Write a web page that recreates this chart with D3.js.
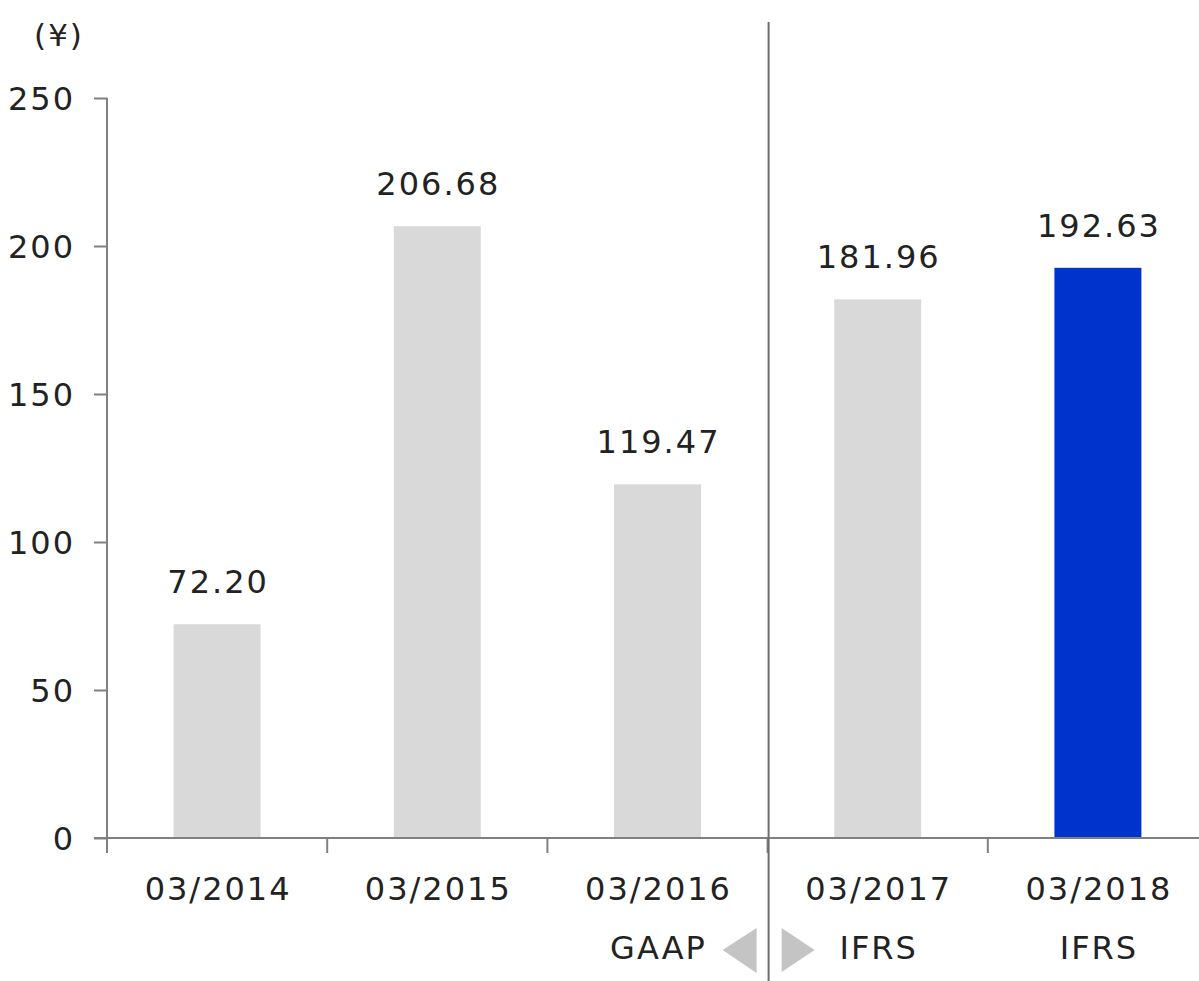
<!DOCTYPE html>
<html>
<head>
<meta charset="utf-8">
<script src="https://cdn.jsdelivr.net/npm/d3@7"></script>
<style>
  html, body { margin: 0; padding: 0; background: #ffffff; }
  svg { display: block; }
  text { font-family: "DejaVu Sans", Verdana, sans-serif; fill: #222; letter-spacing: 2px; }
</style>
</head>
<body>
<svg id="chart" width="1199" height="981"></svg>
<script>
const categories = ["03/2014", "03/2015", "03/2016", "03/2017", "03/2018"];
const values = [72.20, 206.68, 119.47, 181.96, 192.63];
const valueLabels = ["72.20", "206.68", "119.47", "181.96", "192.63"];
const standards = ["", "", "GAAP", "IFRS", "IFRS"];
const barColors = ["#d9d9d9", "#d9d9d9", "#d9d9d9", "#d9d9d9", "#0033cc"];
const yTicks = [0, 50, 100, 150, 200, 250];
const unitLabel = "(¥)";

const svg = d3.select("#chart");
const axisColor = "#808080";
const fs = 32;
const ls = 1; // half letter-spacing offset for centred text

const x = d3.scaleBand().domain(categories).range([107, 1208]).padding(0);
const y = d3.scaleLinear().domain([0, 250]).range([838, 98]);
const barW = x.bandwidth() * 0.395;

// bars
svg.append("g").selectAll("rect").data(values).join("rect")
  .attr("x", (d, i) => x(categories[i]) + x.bandwidth() / 2 - barW / 2)
  .attr("y", d => y(d))
  .attr("width", barW)
  .attr("height", d => y(0) - y(d))
  .attr("fill", (d, i) => barColors[i]);

// value labels
svg.append("g").selectAll("text").data(values).join("text")
  .attr("x", (d, i) => x(categories[i]) + x.bandwidth() / 2 + ls)
  .attr("y", d => y(d) - 31)
  .attr("text-anchor", "middle")
  .attr("font-size", fs)
  .text((d, i) => valueLabels[i]);

// y axis
const yAxis = d3.axisLeft(y).tickValues(yTicks).tickSize(13).tickPadding(19).tickFormat(d3.format("d"));
const gy = svg.append("g").attr("transform", "translate(107,0)").call(yAxis);
gy.select(".domain").remove();
gy.selectAll(".tick line").attr("stroke", axisColor).attr("stroke-width", 2);
gy.selectAll(".tick text").attr("font-size", fs).attr("font-family", "DejaVu Sans, Verdana, sans-serif").attr("fill", "#222").attr("dy", "0.36em");
gy.append("line").attr("x1", 0).attr("x2", 0).attr("y1", y(250)).attr("y2", 853)
  .attr("stroke", axisColor).attr("stroke-width", 2);

// unit label
svg.append("text").attr("x", 59).attr("y", 46).attr("text-anchor", "middle")
  .attr("font-size", 31).text(unitLabel);

// x axis baseline
svg.append("line").attr("x1", 94).attr("x2", 1199).attr("y1", y(0)).attr("y2", y(0))
  .attr("stroke", axisColor).attr("stroke-width", 2);

// x tick marks at band boundaries
svg.append("g").selectAll("line").data(categories.slice(1)).join("line")
  .attr("x1", d => x(d)).attr("x2", d => x(d))
  .attr("y1", y(0)).attr("y2", 853)
  .attr("stroke", axisColor).attr("stroke-width", 2);

// category labels
svg.append("g").selectAll("text").data(categories).join("text")
  .attr("x", d => x(d) + x.bandwidth() / 2 + ls)
  .attr("y", 900)
  .attr("text-anchor", "middle")
  .attr("font-size", fs)
  .text(d => d);

// accounting standard labels
svg.append("g").selectAll("text").data(standards).join("text")
  .attr("x", (d, i) => x(categories[i]) + x.bandwidth() / 2 + ls)
  .attr("y", 959)
  .attr("text-anchor", "middle")
  .attr("font-size", fs)
  .text(d => d);

// divider between GAAP and IFRS
const divX = x(categories[3]) + 1;
svg.append("line").attr("x1", divX).attr("x2", divX).attr("y1", 22).attr("y2", 981)
  .attr("stroke", "#6e6e6e").attr("stroke-width", 2);

// arrows
svg.append("path")
  .attr("d", `M${divX - 12},928 L${divX - 12},973 L${divX - 46},950 Z`)
  .attr("fill", "#c4c4c4");
svg.append("path")
  .attr("d", `M${divX + 13},928 L${divX + 13},972 L${divX + 46},950 Z`)
  .attr("fill", "#c4c4c4");
</script>
</body>
</html>
